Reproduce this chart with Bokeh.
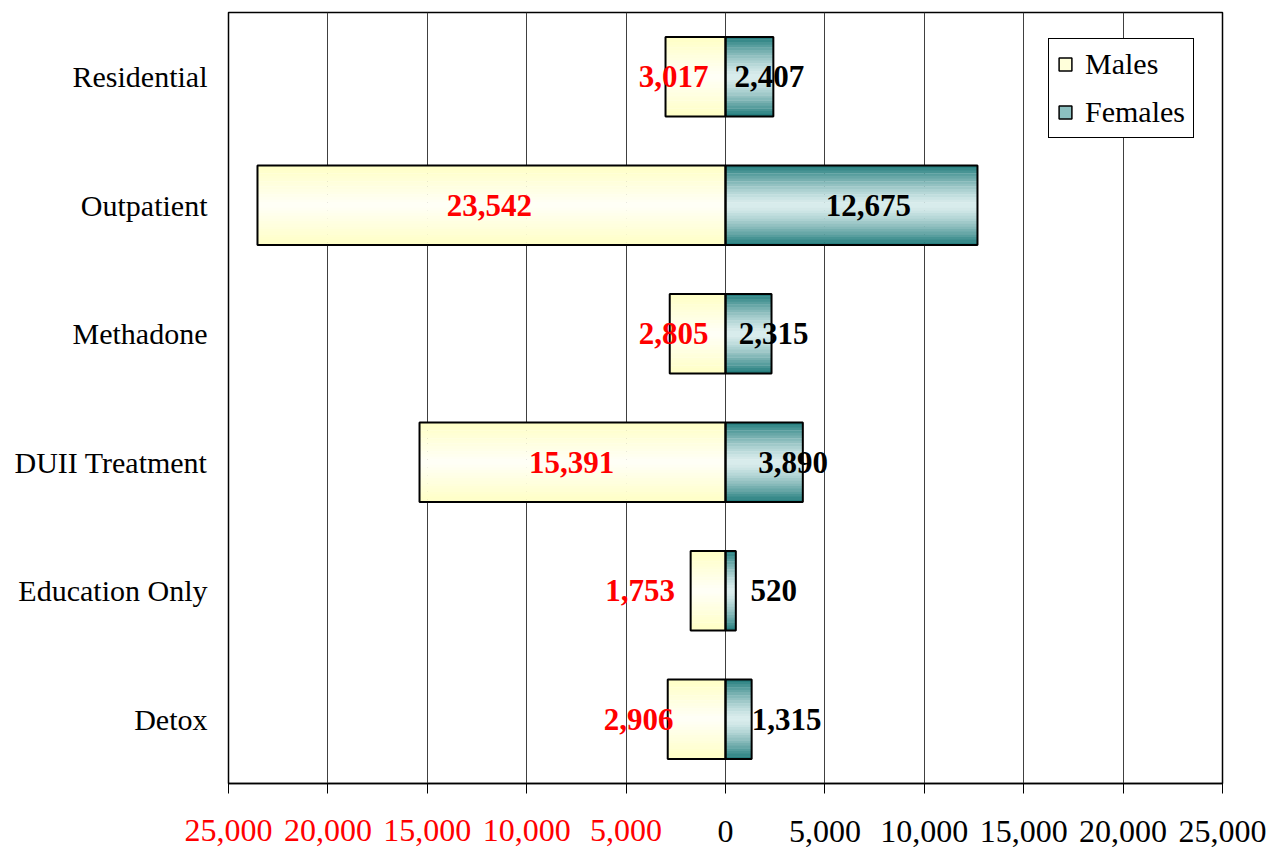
import numpy as np
from bokeh.plotting import figure
from bokeh.models import (ColumnDataSource, Range1d, FixedTicker, LinearAxis,
                          Legend, LegendItem)
from bokeh.core.properties import value
from bokeh.embed import file_html
from bokeh.resources import INLINE

# Clients by treatment program, split by sex
programs = ["Residential", "Outpatient", "Methadone", "DUII Treatment",
            "Education Only", "Detox"]
males = [3017, 23542, 2805, 15391, 1753, 2906]
females = [2407, 12675, 2315, 3890, 520, 1315]
x_ticks = [-25000, -20000, -15000, -10000, -5000, 0,
           5000, 10000, 15000, 20000, 25000]

# Pixel nudges for the value labels (males, females)
male_nudge = [-22, -2, -24, -1, -68, -58]
female_nudge = [20, 17, 25, 29, 43, 48]

FONT = "Liberation Serif"
BAR_H = 0.62
N_STRIPES = 30
TICK_FONT = "32px"

n = len(programs)
ypos = np.arange(n)

p = figure(frame_width=994, frame_height=771,
           min_border_left=228, min_border_right=47,
           min_border_top=12, min_border_bottom=64,
           x_range=Range1d(x_ticks[0], x_ticks[-1]),
           y_range=Range1d(n - 0.5, -0.5),
           output_backend="svg", toolbar_location=None)
p.background_fill_color = "white"
p.border_fill_color = "white"
p.outline_line_color = "black"
p.outline_line_width = 1.5

# ---- axes ----
yax = p.yaxis[0]
yax.ticker = FixedTicker(ticks=list(ypos))
yax.major_label_overrides = {int(i): name for i, name in zip(ypos, programs)}
yax.axis_line_color = None
yax.major_tick_line_color = None
yax.minor_tick_line_color = None
yax.major_label_text_font = FONT
yax.major_label_text_font_size = "30px"
yax.major_label_text_color = "black"
yax.major_label_standoff = 15

# main x axis: line, ticks and the black (female side) labels
xax = p.xaxis[0]
xax.ticker = FixedTicker(ticks=x_ticks)
xax.major_label_overrides = {t: ("" if t < 0 else f"{t:,}") for t in x_ticks}
xax.axis_line_color = "black"
xax.axis_line_width = 1.5
xax.major_tick_line_color = "black"
xax.major_tick_out = 10
xax.major_tick_in = 0
xax.minor_tick_line_color = None
xax.major_label_text_font = FONT
xax.major_label_text_font_size = TICK_FONT
xax.major_label_text_color = "black"
xax.major_label_standoff = 27

# second x axis carrying only the red (male side) labels, pulled up
# onto the same row as the black ones
red_ax = LinearAxis(ticker=FixedTicker(ticks=x_ticks),
                    major_label_overrides={t: (f"{-t:,}" if t < 0 else "")
                                           for t in x_ticks})
red_ax.axis_line_color = None
red_ax.major_tick_line_color = None
red_ax.minor_tick_line_color = None
red_ax.major_tick_out = 0
red_ax.major_tick_in = 0
red_ax.major_label_text_font = FONT
red_ax.major_label_text_font_size = TICK_FONT
red_ax.major_label_text_color = "red"
red_ax.major_label_standoff = -25
p.add_layout(red_ax, "below")

p.ygrid.grid_line_color = None
p.xgrid.ticker = FixedTicker(ticks=x_ticks)
p.xgrid.grid_line_color = "#404040"
p.xgrid.grid_line_width = 1


# ---- gradient-filled bars built from thin horizontal stripes ----
def lerp(c0, c1, t):
    return "#%02x%02x%02x" % tuple(int(round(a + (b - a) * t)) for a, b in zip(c0, c1))


def stripes(left_vals, right_vals, edge, centre, power):
    ys, ls, rs, cs = [], [], [], []
    h = BAR_H / N_STRIPES
    for k in range(N_STRIPES):
        off = -BAR_H / 2 + (k + 0.5) * h
        t = abs(off) / (BAR_H / 2)
        col = lerp(centre, edge, t ** power)
        for i in range(n):
            ys.append(ypos[i] + off)
            ls.append(left_vals[i])
            rs.append(right_vals[i])
            cs.append(col)
    return ColumnDataSource(dict(y=ys, left=ls, right=rs, color=cs)), h


zeros = [0] * n
male_left = [-v for v in males]

m_src, h = stripes(male_left, zeros, (255, 255, 196), (255, 255, 248), 1.0)
p.hbar(y="y", left="left", right="right", height=h * 1.15, source=m_src,
       fill_color="color", line_color=None)
f_src, h = stripes(zeros, females, (30, 122, 122), (218, 237, 237), 1.4)
p.hbar(y="y", left="left", right="right", height=h * 1.15, source=f_src,
       fill_color="color", line_color=None)

# bar outlines
p.hbar(y=ypos, left=male_left, right=zeros, height=BAR_H,
       fill_color=None, line_color="black", line_width=2)
p.hbar(y=ypos, left=zeros, right=females, height=BAR_H,
       fill_color=None, line_color="black", line_width=2)

# ---- value labels ----
p.text(x=[-v / 2 for v in males], y=ypos, text=[f"{v:,}" for v in males],
       x_offset=male_nudge, text_align="center", text_baseline="middle",
       text_font=value(FONT), text_font_size="31px", text_font_style="bold",
       text_color="red")
p.text(x=[v / 2 for v in females], y=ypos, text=[f"{v:,}" for v in females],
       x_offset=female_nudge, text_align="center", text_baseline="middle",
       text_font=value(FONT), text_font_size="31px", text_font_style="bold",
       text_color="black")

# ---- legend (swatch-only proxy renderers) ----
nan = float("nan")
r_m = p.hbar(y=[nan], left=[nan], right=[nan], height=BAR_H,
             fill_color="#FFFFDA", line_color="black", line_width=1.5)
r_f = p.hbar(y=[nan], left=[nan], right=[nan], height=BAR_H,
             fill_color="#8CC0C0", line_color="black", line_width=1.5)
legend = Legend(items=[LegendItem(label="Males", renderers=[r_m]),
                       LegendItem(label="Females", renderers=[r_f])],
                location=(820, 645))
legend.border_line_color = "black"
legend.border_line_width = 1
legend.border_line_alpha = 1
legend.background_fill_color = "white"
legend.background_fill_alpha = 1
legend.label_text_font = FONT
legend.label_text_font_size = "30px"
legend.label_text_color = "black"
legend.glyph_width = 16
legend.glyph_height = 16
legend.label_standoff = 12
legend.padding = 8
legend.spacing = 14
legend.margin = 0
p.add_layout(legend)

open("out.html", "w").write(file_html(p, INLINE))
